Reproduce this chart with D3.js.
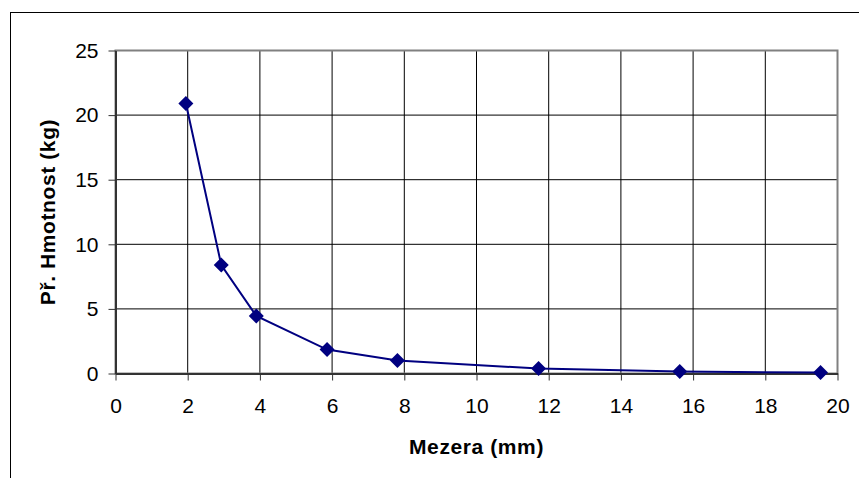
<!DOCTYPE html>
<html>
<head>
<meta charset="utf-8">
<script src="https://cdn.jsdelivr.net/npm/d3@7"></script>
<style>
  body { margin: 0; background: #fff; }
  svg { display: block; font-family: "Liberation Sans", Arial, sans-serif; }
</style>
</head>
<body>
<div id="canvas"></div>
<script>
// data
var gaps = [1.95, 2.93, 3.9, 5.86, 7.81, 11.72, 15.63, 19.53];   // Mezera (mm)
var masses = [20.9, 8.4, 4.45, 1.85, 1.0, 0.38, 0.15, 0.07];     // Př. Hmotnost (kg)
var xTicks = [0, 2, 4, 6, 8, 10, 12, 14, 16, 18, 20];
var yTicks = [0, 5, 10, 15, 20, 25];

var W = 859, H = 478;
var m = {t: 50.5, r: 21.5, b: 104.5, l: 115.5},
    w = W - m.l - m.r,
    h = H - m.t - m.b;

var svg = d3.select('#canvas').append('svg')
    .attr('width', W)
    .attr('height', H);

// outer chart border
svg.append('rect')
    .attr('x', 10.5).attr('y', 12.5)
    .attr('width', W + 10).attr('height', H + 10)
    .attr('fill', 'none').attr('stroke', '#000').attr('stroke-width', 1);

var plot = svg.append('g')
    .attr('transform', 'translate(' + m.l + ',' + m.t + ')');

var scaleX = d3.scaleLinear().domain([0, 20]).range([0, w]);
var scaleY = d3.scaleLinear().domain([0, 25]).range([h, 0]);

// grid
plot.append('g').selectAll('line').data(xTicks.slice(1, -1)).enter()
    .append('line')
    .attr('x1', d => scaleX(d)).attr('x2', d => scaleX(d))
    .attr('y1', 0).attr('y2', h)
    .attr('stroke', '#000').attr('stroke-width', 1);
plot.append('g').selectAll('line').data(yTicks.slice(1, -1)).enter()
    .append('line')
    .attr('y1', d => scaleY(d)).attr('y2', d => scaleY(d))
    .attr('x1', 0).attr('x2', w)
    .attr('stroke', '#000').attr('stroke-width', 1);

// plot area frame
plot.append('rect')
    .attr('width', w).attr('height', h)
    .attr('fill', 'none').attr('stroke', '#808080').attr('stroke-width', 2);

// axes
var axisX = d3.axisBottom(scaleX).tickValues(xTicks).tickSize(7).tickPadding(18).tickSizeOuter(0);
var axisY = d3.axisLeft(scaleY).tickValues(yTicks).tickSize(7).tickPadding(10).tickSizeOuter(0);

var gx = plot.append('g').attr('class', 'axis axis-x')
    .attr('transform', 'translate(0,' + h + ')')
    .call(axisX);
var gy = plot.append('g').attr('class', 'axis axis-y').call(axisY);

[gx, gy].forEach(function(g) {
  g.attr('font-size', null).attr('font-family', null);
  g.select('.domain').attr('stroke', '#333').attr('stroke-width', 2);
  g.selectAll('.tick line').attr('stroke', '#333');
  g.selectAll('.tick text')
      .attr('fill', '#000')
      .style('font-size', '21px');
});

// series
var line = d3.line()
    .x((d, i) => scaleX(gaps[i]))
    .y(d => scaleY(d));

plot.append('path')
    .datum(masses)
    .attr('d', line)
    .attr('fill', 'none')
    .attr('stroke', '#000080')
    .attr('stroke-width', 2);

plot.selectAll('.pt').data(masses).enter()
    .append('path')
    .attr('class', 'pt')
    .attr('transform', (d, i) => 'translate(' + scaleX(gaps[i]) + ',' + scaleY(d) + ')')
    .attr('d', 'M0,-7.5L7.5,0L0,7.5L-7.5,0Z')
    .attr('fill', '#000080');

// axis titles
svg.append('text')
    .attr('x', m.l + w / 2).attr('y', 454)
    .attr('text-anchor', 'middle')
    .style('font-size', '21px').style('font-weight', 'bold')
    .style('letter-spacing', '0.6px')
    .text('Mezera (mm)');

svg.append('text')
    .attr('transform', 'translate(55,' + (m.t + h / 2) + ') rotate(-90)')
    .attr('text-anchor', 'middle')
    .style('font-size', '21px').style('font-weight', 'bold')
    .style('letter-spacing', '0.6px')
    .text('Př. Hmotnost (kg)');
</script>
</body>
</html>
